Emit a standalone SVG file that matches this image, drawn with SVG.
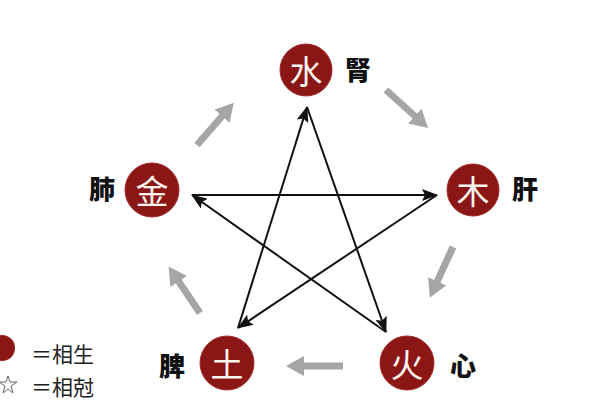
<svg xmlns="http://www.w3.org/2000/svg" width="600" height="400" viewBox="0 0 600 400">
<style>
.node circle{fill:#8a1616;stroke:#a32a2a;stroke-width:1}
.el{font-family:"Noto Sans CJK SC","Noto Sans CJK JP",sans-serif;font-size:33px;fill:#fff5ee;text-anchor:middle;dominant-baseline:central}
.organ{font-family:"Noto Sans CJK SC","Noto Sans CJK TC",sans-serif;font-size:26px;font-weight:900;fill:#111;text-anchor:middle;dominant-baseline:central}
.ke{stroke:#111;stroke-width:2;fill:none;marker-end:url(#ah)}
.sheng{stroke:#a6a6a6;stroke-width:7;fill:none;marker-end:url(#gh)}
.leg{font-family:"Noto Sans CJK SC",sans-serif;font-size:21px;fill:#222}
</style>
<defs>
<marker id="ah" markerUnits="userSpaceOnUse" markerWidth="16" markerHeight="12" viewBox="0 0 16 12" refX="15" refY="6" orient="auto">
<path d="M0,0 L16,6 L0,12 L3,6 z" fill="#111"/>
</marker>
<marker id="gh" markerUnits="userSpaceOnUse" markerWidth="18" markerHeight="20" viewBox="0 0 18 20" refX="3" refY="10" orient="auto">
<path d="M0,0 L18,10 L0,20 z" fill="#a6a6a6"/>
</marker>
</defs>
<rect width="600" height="400" fill="#fff"/>
<g id="connectors">
<line class="ke" x1="192" y1="195" x2="437" y2="195"/>
<line class="ke" x1="437" y1="195" x2="238" y2="328"/>
<line class="ke" x1="386" y1="332" x2="192" y2="195"/>
<line class="ke" x1="307" y1="107" x2="386" y2="332"/>
<line class="ke" x1="238" y1="328" x2="307" y2="107"/>
<line class="sheng" x1="197" y1="145" x2="224" y2="114"/>
<line class="sheng" x1="386" y1="90" x2="417" y2="118"/>
<line class="sheng" x1="453" y1="247" x2="436" y2="284"/>
<line class="sheng" x1="343" y1="366" x2="301" y2="366"/>
<line class="sheng" x1="200" y1="313" x2="177" y2="279"/>
</g>
<g id="shui" class="node"><circle cx="306" cy="70" r="26"/><text class="el" x="306" y="70">水</text><text class="organ" x="358" y="68">腎</text></g>
<g id="mu" class="node"><circle cx="473" cy="190" r="26"/><text class="el" x="473" y="190">木</text><text class="organ" x="525" y="187">肝</text></g>
<g id="huo" class="node"><circle cx="407" cy="363" r="27"/><text class="el" x="407" y="363">火</text><text class="organ" x="463" y="364">心</text></g>
<g id="tu" class="node"><circle cx="227" cy="363" r="27"/><text class="el" x="227" y="363">土</text><text class="organ" x="172" y="364">脾</text></g>
<g id="jin" class="node"><circle cx="152" cy="190" r="27"/><text class="el" x="152" y="190">金</text><text class="organ" x="102" y="187">肺</text></g>
<g id="legend">
<circle cx="2" cy="348" r="13" fill="#8a1616"/>
<text class="leg" x="31" y="362">＝相生</text>
<path d="M8,376 L10,382 L17,382 L11,386 L13,393 L8,389 L3,393 L5,386 L-1,382 L6,382 z" fill="none" stroke="#666" stroke-width="1"/>
<text class="leg" x="31" y="395">＝相尅</text>
</g>
</svg>
